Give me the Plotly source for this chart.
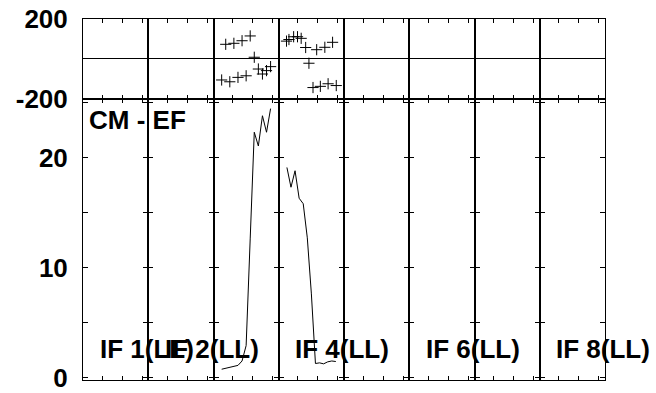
import plotly.graph_objects as go
from plotly.subplots import make_subplots

# ---- data ----
n_if = 8
source_name = "CM - EF"
if_labels = ["IF 1(LL)", "IF 2(LL)", "IF 4(LL)", "IF 6(LL)", "IF 8(LL)"]
if_label_panels = [1, 2, 4, 6, 8]

phase_ticks = [-200, 200]
phase_ticktext = ["-200", "200"]
amp_ticks = [0, 5, 10, 15, 20, 25]
amp_ticktext = ["0", "", "10", "", "20", ""]

# IF 3
if3_chan = [2, 3, 4, 5, 6, 7, 8, 9, 10, 11, 12, 13, 14]
if3_amp = [0.75, 0.82, 0.9, 0.97, 1.1, 1.5, 2.9, 12.6, 22.3, 21.05, 23.8, 22.3, 24.45]
if3_phase_chan = [2, 3, 4, 5, 6, 7, 8, 9, 10, 11, 12, 13, 14]
if3_phase = [-106, 73, -115, 78, -93, 91, -85, 115, 8, -51, -76, -59, -39]

# IF 4
if4_chan = [2, 3, 4, 5, 6, 7, 8, 9, 10, 11, 12, 13, 14]
if4_amp = [19.1, 17.3, 18.8, 16.3, 15.8, 12.7, 7.6, 1.27, 1.33, 1.24, 1.42, 1.5, 1.45]
if4_phase_chan = [1.9, 2.5, 3.65, 4.6, 5.5, 6.6, 7.4, 8.4, 9.3, 10.2, 11.3, 12.1, 13.2, 14.1]
if4_phase = [89, 97, 111, 111, 103, 57, -22, -144, 46, -138, 58, -125, 83, -134]

series = {3: (if3_chan, if3_amp, if3_phase_chan, if3_phase),
          4: (if4_chan, if4_amp, if4_phase_chan, if4_phase)}

FONT = "Liberation Sans, Arial, Helvetica, sans-serif"

fig = make_subplots(rows=2, cols=n_if, horizontal_spacing=0, vertical_spacing=0,
                    row_heights=[0.2208, 0.7792])

# make sure every panel is drawn, even those without data
for r in (1, 2):
    for c in range(1, n_if + 1):
        fig.add_trace(go.Scatter(x=[None], y=[None], mode="lines", showlegend=False,
                                 hoverinfo="skip"), row=r, col=c)

for k, (ch, amp, pch, ph) in series.items():
    fig.add_trace(go.Scatter(x=pch, y=ph, mode="markers",
                             marker=dict(symbol="cross-thin", size=8, color="black",
                                         line=dict(width=1, color="black")),
                             showlegend=False), row=1, col=k)
    fig.add_trace(go.Scatter(x=ch, y=amp, mode="lines",
                             line=dict(width=1, color="black"),
                             showlegend=False), row=2, col=k)

fig.update_xaxes(range=[0, 16], tickvals=[4.7, 9.6, 14.5], showticklabels=False,
                 ticks="inside", ticklen=4, tickcolor="black", tickwidth=1,
                 showline=True, linecolor="black", linewidth=1, mirror="ticks",
                 showgrid=False, zeroline=False, automargin=False)

tickfont = dict(family=FONT, size=26, color="black", weight="bold")

fig.update_yaxes(range=[-200, 200], tickvals=phase_ticks, ticktext=phase_ticktext, ticks="",
                 showline=True, linecolor="black", linewidth=1, mirror=True,
                 showgrid=False, zeroline=True, zerolinecolor="black", zerolinewidth=1,
                 showticklabels=False, tickfont=tickfont, automargin=False, row=1)
fig.update_yaxes(range=[-0.23, 25.35], tickvals=amp_ticks, ticktext=amp_ticktext,
                 ticks="inside", ticklen=5, tickcolor="black", tickwidth=1,
                 showline=True, linecolor="black", linewidth=1, mirror="ticks",
                 showgrid=False, zeroline=False, automargin=False,
                 showticklabels=False, tickfont=tickfont, row=2)
fig.update_yaxes(showticklabels=True, ticklabelstandoff=9, col=1)

lab_font = dict(family=FONT, size=26, color="black", weight="bold")
for text, p in zip(if_labels, if_label_panels):
    ax = n_if + p
    fig.add_annotation(x=3.6, y=2.6, xref=f"x{ax}", yref=f"y{ax}", text=text,
                       showarrow=False, xanchor="left", yanchor="middle", font=lab_font)

fig.add_annotation(x=1.0, y=23.4, xref=f"x{n_if + 1}", yref=f"y{n_if + 1}",
                   text=source_name, showarrow=False, xanchor="left", yanchor="middle",
                   font=lab_font)

fig.update_layout(width=656, height=393, margin=dict(l=83, r=51, t=19, b=13),
                  paper_bgcolor="white", plot_bgcolor="white", showlegend=False)

fig.write_html("out.html", config={"displayModeBar": False},
               post_script="document.body.style.margin='0';document.body.style.overflow='hidden';")
